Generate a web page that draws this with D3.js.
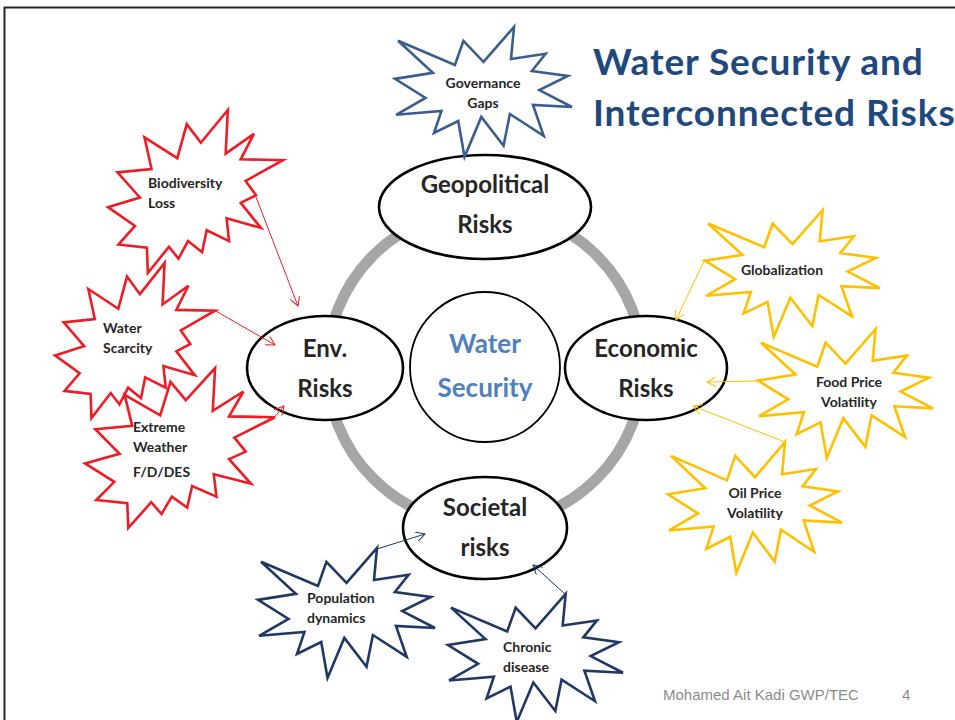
<!DOCTYPE html>
<html>
<head>
<meta charset="utf-8">
<script src="https://cdn.jsdelivr.net/npm/d3@7"></script>
<style>
body{margin:0;background:#fff;}
svg{display:block;}
</style>
</head>
<body>
<script>
var width = 955, height = 720;

// explosion outlines (21600 unit box): type 1 and type 2
var seal1 = [[10800,5800],[14522,0],[14155,5325],[18380,4457],[16702,7315],[21097,8137],
  [17607,10475],[21600,13290],[16837,12942],[18145,18095],[14020,14457],[13247,19737],
  [10532,14935],[8485,21600],[7715,15627],[4762,17617],[5667,13937],[135,14587],
  [3722,11775],[0,8615],[4627,7617],[370,2295],[7312,6320],[8352,2295]];
var seal2 = [[11462,4342],[14790,0],[14525,5777],[18007,3172],[16380,6532],[21600,6645],
  [16985,9402],[18270,11290],[16380,12310],[18877,15632],[14640,14350],[14942,17370],
  [12180,15935],[11612,18842],[9872,17370],[8700,19712],[7527,18125],[4917,21600],
  [4805,18240],[1285,17825],[3330,15370],[0,12877],[3935,11592],[1172,8270],
  [5372,7817],[4502,3625],[8550,6382],[9722,1887]];

// risk nodes around the ring
var nodeNames = ["Geopolitical|Risks", "Env.|Risks", "Economic|Risks", "Societal|risks"];
var nodeCenters = [[485,207], [325,368], [646,368], [485,528]];
var nodeRadii = [[106,52], [78,52], [81,52], [82,51]];
var nodeTextY = [193, 357, 357, 516];

// bursts: label lines, box [x,y,w,h], shape type, colour group
var burstLabels = ["Governance|Gaps", "Biodiversity|Loss", "Water|Scarcity", "Extreme|Weather||F/D/DES",
  "Globalization", "Food Price|Volatility", "Oil Price|Volatility", "Population|dynamics", "Chronic|disease"];
var burstBoxes = [[395,27,177,130],[108,110,175,163],[55,263,160,155],[85,368,190,160],
  [705,210,175,127],[758,329,175,129],[668,442,174,131],[258,548,177,130],[448,594,175,128]];
var burstShape = [1,2,2,2,1,1,1,1,1];
var burstGroup = ["gov","env","env","env","eco","eco","eco","soc","soc"];
var burstText = [[483,"middle",88],[148,"start",188],[103,"start",333],[133,"start",432],
  [782,"middle",275],[849,"middle",387],[755,"middle",498],[307,"start",603],[503,"start",652]];

// connector arrows [x1,y1,x2,y2], colour group
var arrows = [[256,197,298,306],[214,310,275,345],[272,420,284,406],
  [705,259,676,320],[758,381,707,382],[785,442,693,406],
  [377,549,425,534],[565,594,533,565]];
var arrowGroup = ["env","env","env","eco","eco","eco","soc","soc"];

var colors = {gov:"#3a5f8f", env:"#ee1c25", eco:"#ffc000", soc:"#1f3864"};
var font = "Lato, 'Open Sans', sans-serif";

var svg = d3.select("body").append("svg")
    .attr("width", width)
    .attr("height", height);

svg.append("rect").attr("width",width).attr("height",height).attr("fill","#fff");

// slide border
svg.append("path")
    .attr("d","M4.5,"+(height+5)+" L4.5,7.5 L"+(width+5)+",7.5")
    .attr("fill","none").attr("stroke","#262626").attr("stroke-width",2);

var defs = svg.append("defs");
Object.keys(colors).forEach(function(k){
  defs.append("marker")
      .attr("id","arr-"+k)
      .attr("viewBox","0 0 10 10")
      .attr("refX",9).attr("refY",5)
      .attr("markerWidth",10).attr("markerHeight",10)
      .attr("markerUnits","userSpaceOnUse")
      .attr("orient","auto")
    .append("path")
      .attr("d","M0,0 L9,5 L0,10")
      .attr("fill","none")
      .attr("stroke",colors[k])
      .attr("stroke-width",1);
});

// grey ring
svg.append("circle")
    .attr("cx",485).attr("cy",367).attr("r",158)
    .attr("fill","none").attr("stroke","#a6a6a6").attr("stroke-width",11);

// centre circle
svg.append("circle")
    .attr("cx",485).attr("cy",367).attr("r",75)
    .attr("fill","#fff").attr("stroke","#000").attr("stroke-width",1.8);

svg.append("text")
    .attr("text-anchor","middle")
    .attr("font-family",font)
    .attr("font-weight","bold")
    .attr("font-size",26)
    .attr("fill","#4f81bd")
  .selectAll("tspan").data(["Water","Security"]).enter().append("tspan")
    .attr("x",485).attr("y",function(d,i){ return 353 + i*44; })
    .text(function(d){ return d; });

// risk ellipses
var nodes = svg.selectAll(".node")
    .data(nodeNames)
  .enter().append("g").attr("class","node");

nodes.append("ellipse")
    .attr("cx",function(d,i){ return nodeCenters[i][0]; })
    .attr("cy",function(d,i){ return nodeCenters[i][1]; })
    .attr("rx",function(d,i){ return nodeRadii[i][0]; })
    .attr("ry",function(d,i){ return nodeRadii[i][1]; })
    .attr("fill","#fff").attr("stroke","#000").attr("stroke-width",2.6);

nodes.append("text")
    .attr("text-anchor","middle")
    .attr("font-family",font)
    .attr("font-weight","bold")
    .attr("font-size",24)
    .attr("fill","#262626")
  .selectAll("tspan")
    .data(function(d,i){ return d.split("|").map(function(t){ return {t:t,i:i}; }); })
  .enter().append("tspan")
    .attr("x",function(d){ return nodeCenters[d.i][0]; })
    .attr("y",function(d,j){ return nodeTextY[d.i] + j*40; })
    .text(function(d){ return d.t; });

// bursts
var line = d3.line();
var bursts = svg.selectAll(".burst")
    .data(burstLabels)
  .enter().append("g").attr("class","burst");

bursts.append("path")
    .attr("d",function(d,i){
      var b = burstBoxes[i];
      var pts = burstShape[i] === 1 ? seal1 : seal2;
      var sx = d3.scaleLinear().domain([0,21600]).range([b[0], b[0]+b[2]]);
      var sy = d3.scaleLinear().domain([0,21600]).range([b[1], b[1]+b[3]]);
      return line(pts.map(function(p){ return [sx(p[0]), sy(p[1])]; })) + "Z";
    })
    .attr("fill","#fff")
    .attr("stroke",function(d,i){ return colors[burstGroup[i]]; })
    .attr("stroke-width",2.6)
    .attr("stroke-linejoin","miter");

bursts.append("text")
    .attr("text-anchor",function(d,i){ return burstText[i][1]; })
    .attr("font-family",font)
    .attr("font-weight","bold")
    .attr("font-size",14)
    .attr("fill","#262626")
  .selectAll("tspan")
    .data(function(d,i){ return d.split("|").map(function(t){ return {t:t,i:i}; }); })
  .enter().append("tspan")
    .attr("x",function(d){ return burstText[d.i][0]; })
    .attr("y",function(d,j){ return burstText[d.i][2] + j*19.5 + (j>2 ? -14 : 0); })
    .text(function(d){ return d.t; });

// arrows
svg.selectAll(".arrow")
    .data(arrows)
  .enter().append("line")
    .attr("class","arrow")
    .attr("x1",function(d){ return d[0]; })
    .attr("y1",function(d){ return d[1]; })
    .attr("x2",function(d){ return d[2]; })
    .attr("y2",function(d){ return d[3]; })
    .attr("stroke",function(d,i){ return colors[arrowGroup[i]]; })
    .attr("stroke-width",1)
    .attr("marker-end",function(d,i){ return "url(#arr-"+arrowGroup[i]+")"; });

// title
svg.append("text")
    .attr("font-family",font)
    .attr("font-weight","bold")
    .attr("font-size",37)
    .attr("letter-spacing",0.9)
    .attr("fill","#1f497d")
  .selectAll("tspan").data(["Water Security and","Interconnected Risks"]).enter().append("tspan")
    .attr("x",593).attr("y",function(d,i){ return 75 + i*51; })
    .text(function(d){ return d; });

// footer
svg.append("text")
    .attr("x",663).attr("y",700)
    .attr("font-family","'Liberation Sans', Arial, sans-serif")
    .attr("font-size",15)
    .attr("fill","#8c8c8c")
    .text("Mohamed Ait Kadi GWP/TEC");
svg.append("text")
    .attr("x",902).attr("y",700)
    .attr("font-family","'Liberation Sans', Arial, sans-serif")
    .attr("font-size",15)
    .attr("fill","#8c8c8c")
    .text("4");
</script>
</body>
</html>
